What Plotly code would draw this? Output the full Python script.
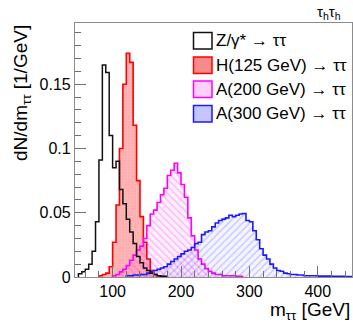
import plotly.graph_objects as go

# ---------------- data (5 GeV bins) ----------------
bin_width = 5
z_start = 50
z_vals = [0.0026, 0.004, 0.006, 0.010, 0.020, 0.043, 0.091, 0.165, 0.159, 0.110,
          0.085, 0.090, 0.068, 0.057, 0.045, 0.035, 0.026, 0.016, 0.011, 0.007,
          0.005, 0.003, 0.002, 0.001, 0.0005, 0.0005]

h_start = 80
h_vals = [0.001, 0.002, 0.003, 0.008, 0.027, 0.056, 0.100, 0.150, 0.174, 0.167,
          0.118, 0.075, 0.047, 0.027, 0.014, 0.005, 0.002, 0.001, 0.0005]

a200_start = 100
a200_vals = [0.001, 0.002, 0.004, 0.006, 0.009, 0.013, 0.017, 0.021, 0.024, 0.030,
             0.040, 0.049, 0.052, 0.058, 0.064, 0.069, 0.079, 0.083, 0.0885, 0.081,
             0.072, 0.062, 0.046, 0.032, 0.021, 0.014, 0.010, 0.0065, 0.0045, 0.003,
             0.002, 0.002, 0.001, 0.001, 0.001, 0.001, 0.0005, 0.0005]

a300_start = 120
a300_vals = [0.001, 0.001, 0.0015, 0.0015, 0.002, 0.002, 0.003, 0.004, 0.005, 0.006,
             0.007, 0.008, 0.010, 0.012, 0.014, 0.016, 0.018, 0.020, 0.021, 0.023,
             0.026, 0.027, 0.033, 0.035, 0.036, 0.039, 0.042, 0.044, 0.045, 0.046,
             0.048, 0.047, 0.048, 0.049, 0.0494, 0.044, 0.043, 0.036, 0.029, 0.022,
             0.017, 0.014, 0.010, 0.007, 0.005, 0.0045, 0.003, 0.0025, 0.002, 0.002,
             0.0015, 0.0015, 0.001, 0.001, 0.001, 0.001, 0.0007, 0.0007, 0.0007, 0.0007,
             0.0005, 0.0005, 0.0005, 0.0005, 0.0004, 0.0004]

legend_labels = ["Z/γ* → ττ", "H(125 GeV) → ττ", "A(200 GeV) → ττ", "A(300 GeV) → ττ"]
x_ticks = [100, 200, 300, 400]
y_ticks = [0, 0.05, 0.1, 0.15]

FONT = "Liberation Sans, Arial, Helvetica, sans-serif"


def step_xy(start, vals, w):
    edges = [start + i * w for i in range(len(vals) + 1)]
    xs = [edges[0]] + edges[:-1] + [edges[-1], edges[-1]]
    ys = [0] + list(vals) + [vals[-1], 0]
    return xs, ys


fig = go.Figure()

# H(125)
x, y = step_xy(h_start, h_vals, bin_width)
fig.add_trace(go.Scatter(x=x, y=y, mode="lines", line=dict(color="#ff0000", width=1.6, shape="hv"),
                         fill="tozeroy",
                         fillpattern=dict(shape="+", bgcolor="rgba(255,60,60,0.42)",
                                          fgcolor="rgba(255,255,255,0.45)", size=3, solidity=0.25),
                         showlegend=False))
# A(200)
x, y = step_xy(a200_start, a200_vals, bin_width)
fig.add_trace(go.Scatter(x=x, y=y, mode="lines", line=dict(color="#ff00ff", width=1.6, shape="hv"),
                         fill="tozeroy",
                         fillpattern=dict(shape="\\", bgcolor="rgba(255,0,255,0.06)",
                                          fgcolor="rgba(255,0,255,0.55)", size=5, solidity=0.25),
                         showlegend=False))
# A(300)
x, y = step_xy(a300_start, a300_vals, bin_width)
fig.add_trace(go.Scatter(x=x, y=y, mode="lines", line=dict(color="#1a1aff", width=1.6, shape="hv"),
                         fill="tozeroy",
                         fillpattern=dict(shape="/", bgcolor="rgba(60,60,255,0.06)",
                                          fgcolor="rgba(60,60,255,0.55)", size=5, solidity=0.25),
                         showlegend=False))
# Z
x, y = step_xy(z_start, z_vals, bin_width)
fig.add_trace(go.Scatter(x=x, y=y, mode="lines", line=dict(color="#111111", width=1.5, shape="hv"),
                         showlegend=False))

axis_common = dict(showgrid=False, zeroline=False, showline=True, mirror=True,
                   linecolor="#8c8c8c", linewidth=1.2, ticks="inside", tickcolor="#707070",
                   tickwidth=1, tickfont=dict(family=FONT, size=16, color="black"))

fig.update_xaxes(range=[45, 450], tickmode="array", tickvals=x_ticks,
                 ticktext=[str(v) for v in x_ticks], ticklen=11,
                 minor=dict(dtick=20, tick0=0, ticks="inside", ticklen=6, tickcolor="#707070"),
                 **axis_common)
fig.update_yaxes(range=[0, 0.1976], tickmode="array", tickvals=y_ticks,
                 ticktext=["0", "0.05", "0.1", "0.15"], ticklen=11,
                 minor=dict(dtick=0.01, tick0=0, ticks="inside", ticklen=6, tickcolor="#707070"),
                 **axis_common)

# custom legend
W, H = 353, 326
ml, mr, mt, mb = 75, 1, 23, 49
pw, ph = W - ml - mr, H - mt - mb


def px2paper(xp, yp):
    return (xp - ml) / pw, 1 - (yp - mt) / ph


box_styles = [
    dict(line="#111111", fill="rgba(255,255,255,0)"),
    dict(line="#ff0000", fill="rgba(245,110,110,0.8)"),
    dict(line="#ff00ff", fill="rgba(255,170,255,0.55)"),
    dict(line="#1a1aff", fill="rgba(160,160,255,0.6)"),
]
centers = [40.7, 65.3, 89.3, 113.8]
for lab, st, cy in zip(legend_labels, box_styles, centers):
    x0, y0 = px2paper(193.5, cy - 8.3)
    x1, y1 = px2paper(212.0, cy + 8.3)
    fig.add_shape(type="rect", xref="paper", yref="paper", x0=x0, x1=x1, y0=y1, y1=y0,
                  line=dict(color=st["line"], width=1.5), fillcolor=st["fill"])
    tx, ty = px2paper(214.0, cy)
    fig.add_annotation(xref="paper", yref="paper", x=tx, y=ty, xanchor="left", yanchor="middle",
                       text=lab, showarrow=False, font=dict(family=FONT, size=17, color="black"))

# channel label
tx, ty = px2paper(343, 12)
fig.add_annotation(xref="paper", yref="paper", x=tx, y=ty, xanchor="right", yanchor="middle",
                   text="τ<sub>h</sub>τ<sub>h</sub>", showarrow=False,
                   font=dict(family=FONT, size=15, color="black"))

# axis titles
tx, ty = px2paper(352, 311)
fig.add_annotation(xref="paper", yref="paper", x=tx, y=ty, xanchor="right", yanchor="middle",
                   text="m<sub>ττ</sub> [GeV]", showarrow=False,
                   font=dict(family=FONT, size=19, color="black"))
tx, ty = px2paper(22, 23)
fig.add_annotation(xref="paper", yref="paper", x=tx, y=ty, xanchor="center", yanchor="top",
                   textangle=-90, text="dN/dm<sub>ττ</sub> [1/GeV]", showarrow=False,
                   font=dict(family=FONT, size=19, color="black"))

fig.update_layout(width=W, height=H, margin=dict(l=ml, r=mr, t=mt, b=mb),
                  paper_bgcolor="white", plot_bgcolor="white", showlegend=False)

fig.write_html("out.html", config={"displayModeBar": False},
               post_script="document.body.style.margin='0';document.body.style.padding='0';"
                           "document.body.style.overflow='hidden';")
